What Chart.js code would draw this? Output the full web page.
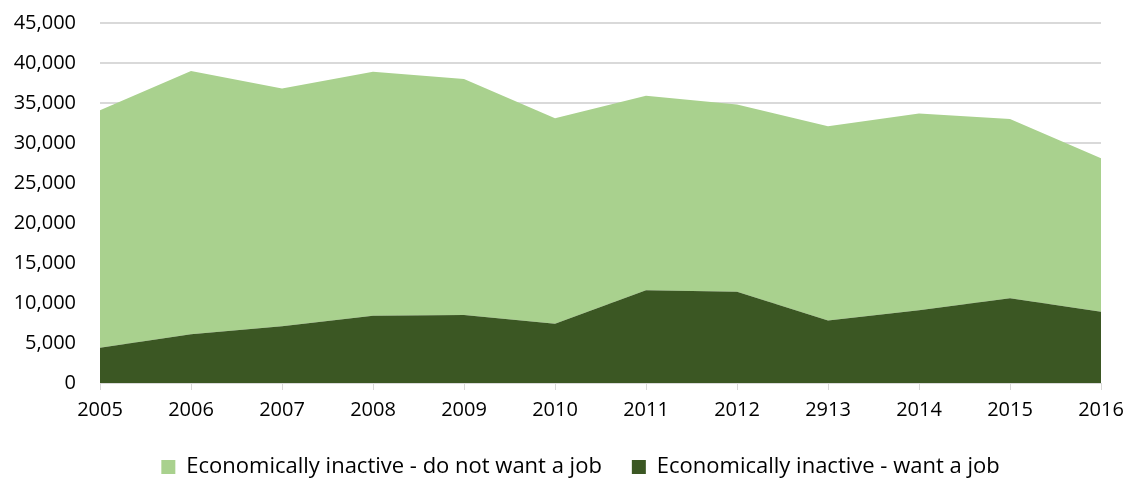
<!DOCTYPE html>
<html>
<head>
<meta charset="utf-8">
<script src="https://cdn.jsdelivr.net/npm/chart.js@4/dist/chart.umd.min.js"></script>
<style>
  html, body { margin: 0; padding: 0; background: #fff; }
  #wrap { width: 1133px; height: 479px; position: relative; }
</style>
</head>
<body>
<div id="wrap"><canvas id="areaChart"></canvas></div>
<script>
// Data
const years = ['2005', '2006', '2007', '2008', '2009', '2010', '2011', '2012', '2913', '2014', '2015', '2016'];
const wantJob = [4400, 6100, 7100, 8400, 8500, 7400, 11600, 11400, 7800, 9100, 10600, 8900];
const notWantJob = [29700, 32900, 29700, 30500, 29500, 25700, 24300, 23400, 24300, 24600, 22400, 19200];
const yTicks = [0, 5000, 10000, 15000, 20000, 25000, 30000, 35000, 40000, 45000];

const fontFamily = '"Open Sans", "Noto Sans", sans-serif';

// nudge the legend a bit right and up, like the original
const legendShift = {
    id: 'legendShift',
    afterLayout: function(chart) {
        chart.legend.left += 30;
        chart.legend.right += 30;
        chart.legend.top -= 4;
        chart.legend.bottom -= 4;
    }
};

document.addEventListener('DOMContentLoaded', function() {
    const ctx = document.getElementById('areaChart').getContext('2d');

    new Chart(ctx, {
        type: 'line',
        data: {
            labels: years,
            datasets: [
                {
                    label: 'Economically inactive - want a job',
                    data: wantJob,
                    backgroundColor: '#3b5723',
                    borderWidth: 0,
                    pointRadius: 0,
                    fill: 'origin'
                },
                {
                    label: 'Economically inactive - do not want a job',
                    data: notWantJob,
                    backgroundColor: '#a9d18e',
                    borderWidth: 0,
                    pointRadius: 0,
                    fill: '-1'
                }
            ]
        },
        plugins: [legendShift],
        options: {
            responsive: true,
            maintainAspectRatio: false,
            animation: false,
            layout: {
                padding: { top: 0, right: 32, left: 0, bottom: -13 }
            },
            plugins: {
                tooltip: { enabled: false },
                legend: {
                    position: 'bottom',
                    reverse: true,
                    labels: {
                        boxWidth: 14,
                        boxHeight: 14,
                        padding: 30,
                        color: '#000',
                        font: { family: fontFamily, size: 22 }
                    }
                }
            },
            scales: {
                x: {
                    offset: false,
                    grid: {
                        drawOnChartArea: false,
                        drawTicks: true,
                        tickLength: 7,
                        color: '#d9d9d9'
                    },
                    border: { color: '#d9d9d9' },
                    ticks: {
                        color: '#000',
                        maxRotation: 0,
                        padding: 8,
                        font: { family: fontFamily, size: 20 }
                    }
                },
                y: {
                    stacked: true,
                    min: 0,
                    max: 45000,
                    afterBuildTicks: function(scale) {
                        scale.ticks = yTicks.map(function(v) { return { value: v }; });
                    },
                    afterFit: function(scale) {
                        scale.width = 100;
                        scale.paddingTop = 23;
                        scale.paddingBottom = 0;
                    },
                    grid: {
                        color: '#d9d9d9',
                        lineWidth: 2,
                        drawTicks: false
                    },
                    border: { display: false },
                    ticks: {
                        color: '#000',
                        padding: 24,
                        font: { family: fontFamily, size: 20 },
                        callback: function(value) {
                            return value.toLocaleString('en-US');
                        }
                    }
                }
            }
        }
    });
});
</script>
</body>
</html>
